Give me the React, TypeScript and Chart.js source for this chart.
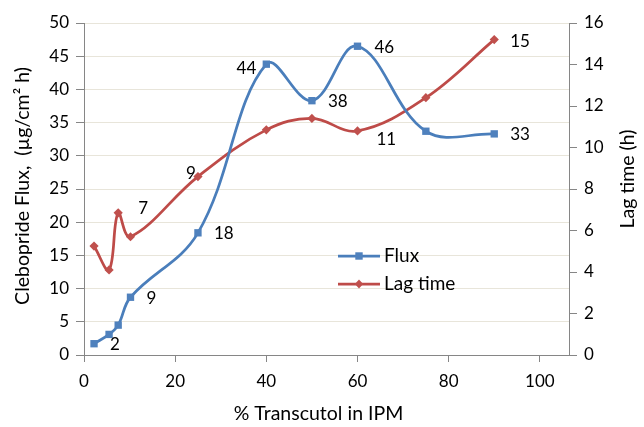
import React, { useEffect, useRef } from 'react';
import { Chart, registerables } from 'chart.js';

Chart.register(...registerables);

// ---- data ----
const transcutolPct = [2.2, 5.5, 7.5, 10.2, 25, 40, 50, 60, 75, 90];
const fluxValues = [1.7, 3.1, 4.5, 8.7, 18.4, 43.8, 38.3, 46.5, 33.7, 33.3];
const lagValues = [5.25, 4.1, 6.85, 5.7, 8.6, 10.85, 11.4, 10.8, 12.4, 15.2];
const fluxLabels: (string | null)[] = ['2', null, null, '9', '18', '44', '38', '46', null, '33'];
const lagLabels: (string | null)[] = [null, null, '7', null, '9', null, null, '11', null, '15'];
const xTickValues = [0, 20, 40, 60, 80, 100];
const seriesNames = ['Flux', 'Lag time'];
const xTitle = '% Transcutol in IPM';
const yLeftTitle = 'Clebopride Flux,  (µg/cm² h)';
const yRightTitle = 'Lag time (h)';

// ---- styles ----
const FONT = 'Lato, "Open Sans", sans-serif';
const BLUE = '#4A7EBB';
const BLUE_M = '#4F81BD';
const RED = '#BE4B48';
const RED_M = '#C0504D';
const AXIS = '#868686';
const GRID = '#E8E5DA';
const TEXT = '#000000';
// label placement: [dx of left/right edge, dy, align]
const fluxLabelPlace: Record<number, [number, number, CanvasTextAlign]> = {
  0: [16, 1, 'left'], 3: [16, 1, 'left'], 4: [16, 1, 'left'], 5: [-10, 4, 'right'],
  6: [16, 1, 'left'], 7: [17, 1, 'left'], 9: [16, 1, 'left'],
};
const lagLabelPlace: Record<number, [number, number, CanvasTextAlign]> = {
  2: [20, -4, 'left'], 4: [-2, -3, 'right'], 7: [19, 9, 'left'], 9: [16, 2, 'left'],
};

const overlayPlugin = {
  id: 'overlay',
  afterDatasetsDraw(chart: any) {
    const ctx: CanvasRenderingContext2D = chart.ctx;
    const xs = chart.scales.x;
    const yl = chart.scales.y;
    const yr = chart.scales.y1;
    const area = chart.chartArea;
    ctx.save();
    ctx.fillStyle = TEXT;
    ctx.font = `17px ${FONT}`;
    ctx.textBaseline = 'middle';
    fluxLabels.forEach((lab, i) => {
      if (!lab) return;
      const p = fluxLabelPlace[i];
      ctx.textAlign = p[2];
      ctx.fillText(lab, xs.getPixelForValue(transcutolPct[i]) + p[0], yl.getPixelForValue(fluxValues[i]) + p[1]);
    });
    lagLabels.forEach((lab, i) => {
      if (!lab) return;
      const p = lagLabelPlace[i];
      ctx.textAlign = p[2];
      ctx.fillText(lab, xs.getPixelForValue(transcutolPct[i]) + p[0], yr.getPixelForValue(lagValues[i]) + p[1]);
    });

    // legend
    ctx.font = `19px ${FONT}`;
    const lx = area.left + 254;
    const rows = [
      { y: area.top + 233, color: BLUE, mcolor: BLUE_M, shape: 'rect', name: seriesNames[0] },
      { y: area.top + 261, color: RED, mcolor: RED_M, shape: 'diamond', name: seriesNames[1] },
    ];
    rows.forEach((r) => {
      ctx.strokeStyle = r.color;
      ctx.lineWidth = 2.75;
      ctx.beginPath();
      ctx.moveTo(lx, r.y);
      ctx.lineTo(lx + 42, r.y);
      ctx.stroke();
      ctx.fillStyle = r.mcolor;
      const cx = lx + 21;
      if (r.shape === 'rect') {
        ctx.fillRect(cx - 3.7, r.y - 3.7, 7.4, 7.4);
      } else {
        ctx.beginPath();
        ctx.moveTo(cx, r.y - 4.6);
        ctx.lineTo(cx + 4.2, r.y);
        ctx.lineTo(cx, r.y + 4.6);
        ctx.lineTo(cx - 4.2, r.y);
        ctx.closePath();
        ctx.fill();
      }
      ctx.fillStyle = TEXT;
      ctx.textAlign = 'left';
      ctx.fillText(r.name, lx + 46, r.y);
    });

    // axis titles
    ctx.font = `19.5px ${FONT}`;
    ctx.textAlign = 'center';
    ctx.fillText(xTitle, (area.left + area.right) / 2 - 8, 414);
    ctx.save();
    ctx.translate(23, (area.top + area.bottom) / 2 - 3);
    ctx.rotate(-Math.PI / 2);
    ctx.fillText(yLeftTitle, 0, 0);
    ctx.restore();
    ctx.save();
    ctx.translate(628, (area.top + area.bottom) / 2 - 10);
    ctx.rotate(-Math.PI / 2);
    ctx.fillText(yRightTitle, 0, 0);
    ctx.restore();
    ctx.restore();
  },
};

export default function App() {
  const ref = useRef<HTMLCanvasElement | null>(null);
  useEffect(() => {
    if (!ref.current) return;
    const tickFont = { family: FONT, size: 17 };
    const chart = new Chart(ref.current, {
      type: 'line',
      data: {
        datasets: [
          {
            label: seriesNames[0],
            data: transcutolPct.map((x, i) => ({ x, y: fluxValues[i] })),
            yAxisID: 'y',
            borderColor: BLUE,
            backgroundColor: BLUE_M,
            borderWidth: 2.75,
            pointStyle: 'rect',
            pointRadius: 5.2,
            pointBorderWidth: 0,
            tension: 0.38,
          },
          {
            label: seriesNames[1],
            data: transcutolPct.map((x, i) => ({ x, y: lagValues[i] })),
            yAxisID: 'y1',
            borderColor: RED,
            backgroundColor: RED_M,
            borderWidth: 2.75,
            pointStyle: 'rectRot',
            pointRadius: 4.6,
            pointBorderWidth: 0,
            tension: 0.38,
          },
        ],
      },
      options: {
        responsive: false,
        animation: false,
        layout: { padding: { top: 23, left: 0, right: 0, bottom: 0 } },
        plugins: { legend: { display: false }, tooltip: { enabled: false } },
        scales: {
          x: {
            type: 'linear',
            position: 'bottom',
            min: 0,
            max: 106.4,
            afterBuildTicks: (s: any) => {
              s.ticks = xTickValues.map((v) => ({ value: v }));
            },
            afterFit: (s: any) => { s.height = 72; },
            ticks: { font: tickFont, color: TEXT, padding: 9, maxRotation: 0 },
            grid: { drawOnChartArea: false, tickLength: 7, tickColor: AXIS, tickWidth: 1 },
            border: { display: true, color: AXIS, width: 1 },
          },
          y: {
            type: 'linear',
            position: 'left',
            min: 0,
            max: 50,
            ticks: { stepSize: 5, font: tickFont, color: TEXT, padding: 7 },
            afterFit: (s: any) => { s.width = 84; },
            grid: { color: GRID, lineWidth: 1, tickLength: 8, tickColor: AXIS },
            border: { display: true, color: AXIS, width: 1 },
          },
          y1: {
            type: 'linear',
            position: 'right',
            min: 0,
            max: 16,
            ticks: { stepSize: 2, font: tickFont, color: TEXT, padding: 7 },
            afterFit: (s: any) => { s.width = 75; },
            grid: { drawOnChartArea: false, tickLength: 8, tickColor: AXIS },
            border: { display: true, color: AXIS, width: 1 },
          },
        },
      },
      plugins: [overlayPlugin],
    } as any);
    return () => chart.destroy();
  }, []);
  return (
    <div style={{ position: 'fixed', left: 0, top: 0, width: 644, height: 427, background: '#fff' }}>
      <canvas ref={ref} width={644} height={427} />
    </div>
  );
}
